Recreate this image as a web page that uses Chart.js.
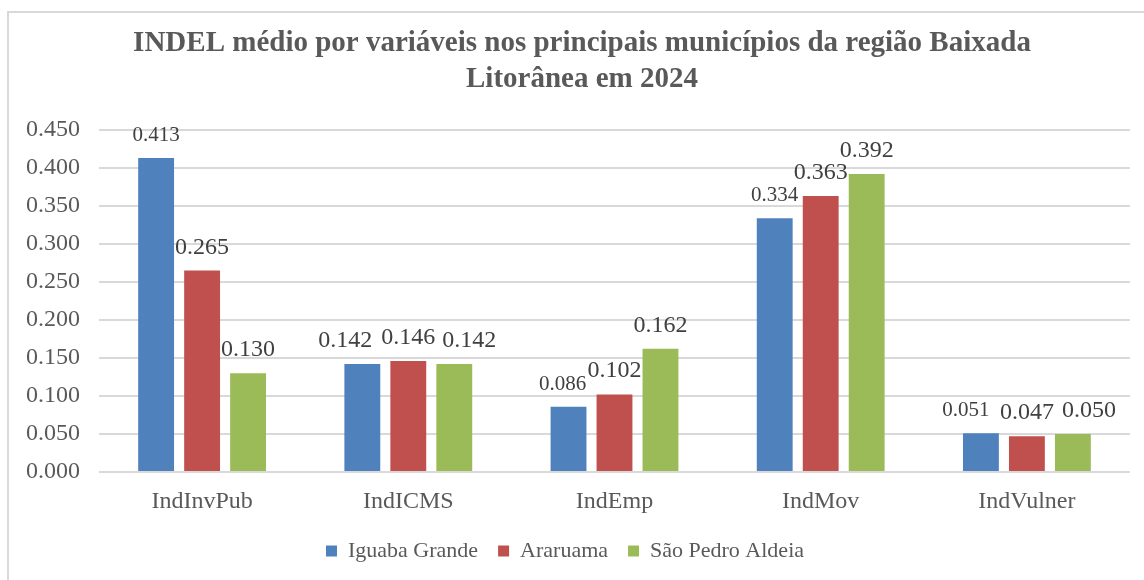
<!DOCTYPE html>
<html>
<head>
<meta charset="utf-8">
<script src="https://cdn.jsdelivr.net/npm/chart.js@4/dist/chart.umd.min.js"></script>
<style>
  html, body { margin: 0; padding: 0; background: #fff; }
  #wrap { position: relative; width: 1144px; height: 580px; }
  #frame { position: absolute; left: 7px; top: 11px; width: 1200px; height: 600px;
           border-left: 2px solid #d9d9d9; border-top: 2px solid #d9d9d9; pointer-events: none; }
</style>
</head>
<body>
<div id="wrap">
  <canvas id="indel_chart" width="1144" height="580"></canvas>
  <div id="frame"></div>
</div>
<script>
var categories = ["IndInvPub", "IndICMS", "IndEmp", "IndMov", "IndVulner"];
var iguabaGrande = [0.413, 0.142, 0.086, 0.334, 0.051];
var araruama = [0.265, 0.146, 0.102, 0.363, 0.047];
var saoPedroAldeia = [0.130, 0.142, 0.162, 0.392, 0.050];
var yTicks = [0, 0.05, 0.1, 0.15, 0.2, 0.25, 0.3, 0.35, 0.4, 0.45];

// label styling (font size and small sideways nudges as in the original)
var labelSizes = [
    [21, 24, 21, 21, 21],
    [24, 24, 24, 24, 24],
    [24, 24, 24, 24, 24]
];
var labelNudge = [
    [0, -17, -6, 0, -15],
    [0, 0, 0, 0, 0],
    [0, 15, 0, 0, 16]
];

var serif = "'Liberation Serif', 'Times New Roman', serif";

// draws the value above each bar
var valueLabels = {
    id: "valueLabels",
    afterLayout: function(chart) {
        // title is centred a bit right of the plot in the original
        if (chart.titleBlock) chart.titleBlock.left = 34;
    },
    afterDatasetsDraw: function(chart) {
        var ctx = chart.ctx;
        ctx.save();
        ctx.fillStyle = "#404040";
        ctx.textAlign = "center";
        ctx.textBaseline = "alphabetic";
        chart.data.datasets.forEach(function(ds, i) {
            chart.getDatasetMeta(i).data.forEach(function(bar, j) {
                ctx.font = labelSizes[i][j] + "px " + serif;
                ctx.fillText(ds.data[j].toFixed(3), bar.x + labelNudge[i][j], bar.y - 17);
            });
        });
        ctx.restore();
    }
};

var data = {
    labels: categories,
    datasets: [
        { label: "Iguaba Grande", data: iguabaGrande, backgroundColor: "#4F81BD" },
        { label: "Araruama", data: araruama, backgroundColor: "#C0504D" },
        { label: "São Pedro Aldeia", data: saoPedroAldeia, backgroundColor: "#9BBB59" }
    ]
};

var options = {
    responsive: false,
    animation: false,
    layout: { padding: { left: 0, right: 14, top: 0, bottom: 8 } },
    datasets: { bar: { categoryPercentage: 0.669, barPercentage: 0.78 } },
    plugins: {
        title: {
            display: true,
            text: ["INDEL médio por variáveis nos principais municípios da região Baixada", "Litorânea em 2024"],
            color: "#595959",
            font: { family: serif, size: 29, weight: "bold", lineHeight: 1.241 },
            padding: { top: 26, bottom: 32 }
        },
        legend: {
            position: "bottom",
            labels: {
                color: "#595959",
                font: { family: serif, size: 22 },
                boxWidth: 11,
                boxHeight: 11,
                padding: 20
            }
        },
        tooltip: { enabled: false }
    },
    scales: {
        x: {
            grid: { display: false },
            border: { display: false },
            ticks: { color: "#595959", font: { family: serif, size: 24 }, padding: 7 },
            afterFit: function(scale) { scale.height = 48; }
        },
        y: {
            min: 0,
            max: 0.45,
            border: { display: false },
            grid: { color: "#d9d9d9", lineWidth: 2, drawTicks: false },
            afterBuildTicks: function(scale) {
                scale.ticks = yTicks.map(function(v) { return { value: v }; });
            },
            ticks: {
                color: "#595959",
                font: { family: serif, size: 24 },
                padding: 19,
                callback: function(v) { return v.toFixed(3); }
            },
            afterFit: function(scale) { scale.width = 99; }
        }
    }
};

var ctx = document.getElementById("indel_chart");
var chart = new Chart(ctx, {
    type: "bar",
    data: data,
    options: options,
    plugins: [valueLabels]
});
</script>
</body>
</html>
